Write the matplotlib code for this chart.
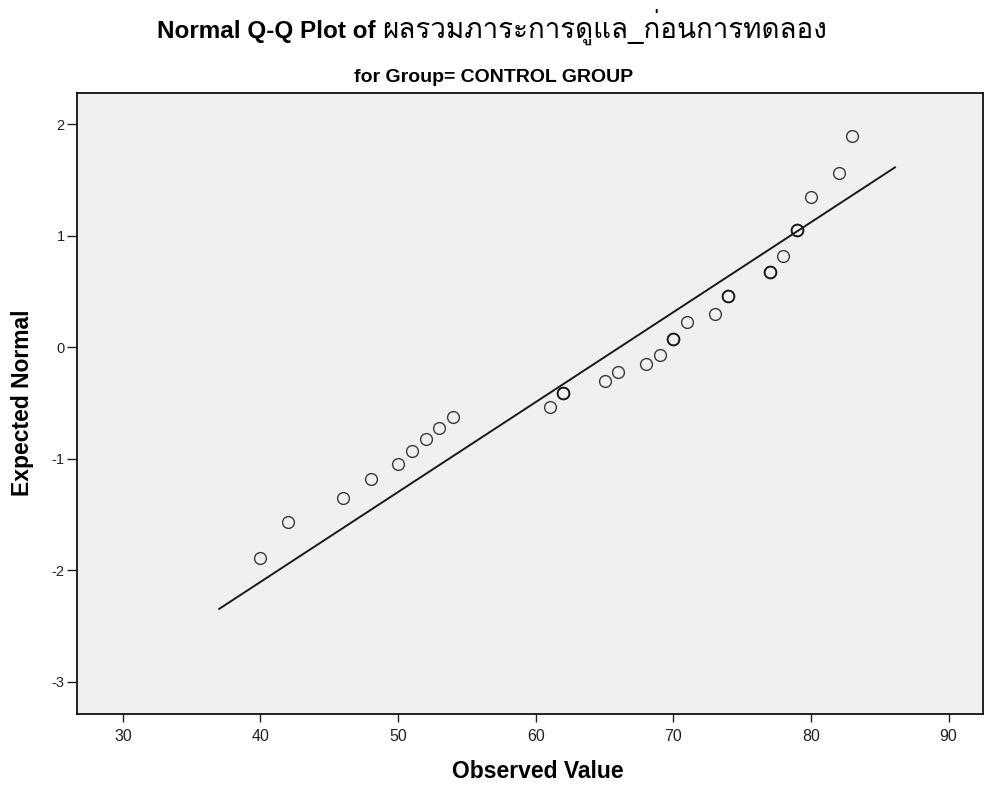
import matplotlib
matplotlib.use('Agg')
import matplotlib.pyplot as plt
from matplotlib import font_manager
from matplotlib.ft2font import FT2Font

# observed values (distinct) and their expected normal scores
obs = [40, 42, 46, 48, 50, 51, 52, 53, 54, 61, 62, 65, 66, 68, 69,
       70, 71, 73, 74, 77, 78, 79, 80, 82, 83]
expected = [-1.888, -1.565, -1.350, -1.185, -1.051, -0.932, -0.822, -0.723,
            -0.625, -0.540, -0.415, -0.302, -0.224, -0.150, -0.074,
            0.074, 0.224, 0.302, 0.457, 0.672, 0.822, 1.048, 1.347, 1.565, 1.891]
tied = [62, 70, 74, 77, 79]   # values that occur twice (drawn darker)

line_mean = 66.1
line_sd = 12.4
line_x = [37.0, 86.1]

xticks = [30, 40, 50, 60, 70, 80, 90]
yticks = [-3, -2, -1, 0, 1, 2]

title_en = "Normal Q-Q Plot of "
title_th = "ผลรวมภาระการดูแล_ก่อนการทดลอง"
subtitle = "for Group= CONTROL GROUP"


def find_thai():
    for f in font_manager.fontManager.ttflist:
        try:
            if ord('ผ') in FT2Font(f.fname).get_charmap():
                return f.name
        except Exception:
            pass
    return 'DejaVu Sans'


plt.rcParams['axes.unicode_minus'] = False
thai = find_thai()
W, H = 984, 785

fig = plt.figure(figsize=(9.84, 7.85), dpi=100)
fig.patch.set_facecolor('white')
ax = fig.add_axes([0.0783, 0.0904, 0.9207, 0.7911])
ax.set_facecolor('#f0f0f0')

ax.plot(line_x, [(v - line_mean) / line_sd for v in line_x],
        color='#1a1a1a', lw=1.4, zorder=2)
ax.plot(obs, expected, ls='none', marker='o', ms=8.5, mfc='none',
        mec='#3a3a3a', mew=1.0, zorder=3)
tx = [o for o in obs if o in tied]
ty = [e for o, e in zip(obs, expected) if o in tied]
ax.plot(tx, ty, ls='none', marker='o', ms=8.5, mfc='none',
        mec='#1a1a1a', mew=1.3, zorder=4)

ax.set_xlim(26.67, 92.5)
ax.set_ylim(-3.29, 2.28)
ax.set_xticks(xticks)
ax.set_yticks(yticks)
for s in ax.spines.values():
    s.set_linewidth(1.3)
    s.set_color('#111111')
ax.tick_params(axis='x', direction='out', length=6, width=1, pad=5,
               color='#222222', labelcolor='#222222', labelsize=11.5)
ax.tick_params(axis='y', direction='out', length=7.5, width=1, pad=1.5,
               color='#222222', labelcolor='#222222', labelsize=10.5)
for lab in ax.get_xticklabels() + ax.get_yticklabels():
    lab.set_family('Liberation Sans')

fig.text(538 / W, 1 - 778 / H, "Observed Value", family='Liberation Sans',
         fontweight='bold', fontsize=16.5, ha='center', va='baseline')
fig.text(23 / W, 1 - 403 / H, "Expected Normal", family='Liberation Sans',
         fontweight='bold', fontsize=16.5, ha='center', va='center',
         rotation=90)

# title in two pieces: bold latin, regular thai, centred together
fig.canvas.draw()
r = fig.canvas.get_renderer()
t1 = fig.text(0, 1 - 38 / H, title_en, family='Liberation Sans',
              fontweight='bold', fontsize=17.5, va='baseline', ha='left')
t2 = fig.text(0, 1 - 38 / H, title_th, family=[thai, 'DejaVu Sans'],
              fontsize=20, va='baseline', ha='left')
w1 = t1.get_window_extent(r).width
w2 = t2.get_window_extent(r).width
x0 = (W - w1 - w2) / 2
t1.set_x(x0 / W)
t2.set_x((x0 + w1) / W)

fig.text(494 / W, 1 - 82 / H, subtitle, family='Liberation Sans',
         fontweight='bold', fontsize=14, ha='center', va='baseline')

fig.savefig('out.png', dpi=100)
